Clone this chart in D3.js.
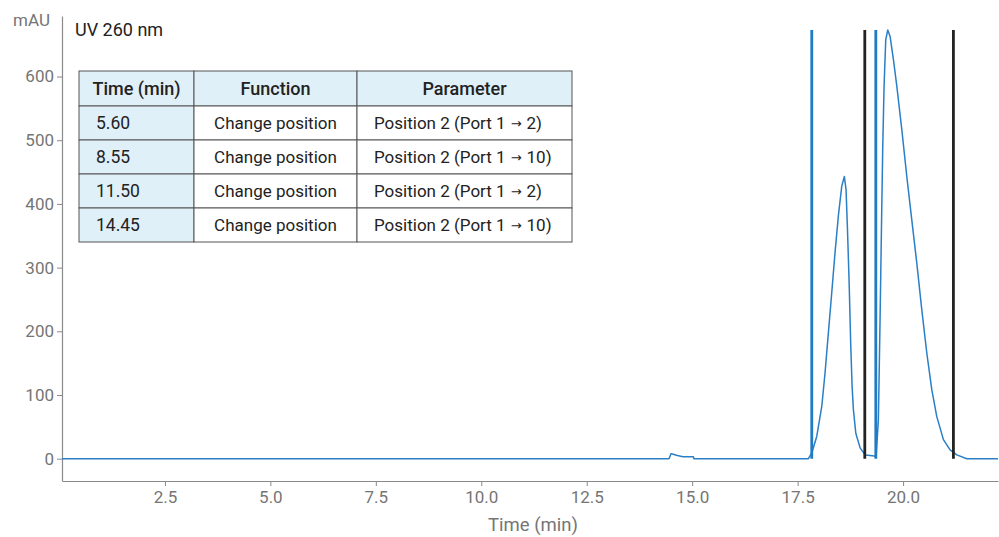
<!DOCTYPE html>
<html>
<head>
<meta charset="utf-8">
<script src="https://cdn.jsdelivr.net/npm/d3@7"></script>
<style>
  html, body { margin: 0; padding: 0; background: #fff; }
  svg { display: block; font-family: Roboto, "Noto Sans", sans-serif; }
</style>
</head>
<body>
<svg id="chart" width="999" height="537"></svg>
<script>
// ---- Data ----
const traceTime = [0.06, 14.45, 14.50, 14.55, 14.65, 14.78, 15.03, 15.04, 17.755, 17.835, 17.953, 18.072, 18.150, 18.229, 18.309, 18.387, 18.465, 18.546, 18.608, 18.648, 18.679, 18.719, 18.760, 18.791, 18.822, 18.879, 18.981, 19.100, 19.219, 19.361, 19.414, 19.454, 19.495, 19.518, 19.549, 19.589, 19.637, 19.692, 19.770, 19.851, 19.969, 20.088, 20.206, 20.325, 20.443, 20.562, 20.681, 20.799, 20.956, 21.115, 21.273, 21.510, 22.25];
const traceMAU  = [0, 0, 8, 7, 5, 3, 3, 0, 0, 9, 35, 82, 135, 198, 261, 324, 381, 428, 443, 422, 365, 281, 176, 114, 77, 40, 17, 6, 5, 4, 61, 218, 396, 490, 585, 658, 673, 663, 627, 585, 517, 443, 375, 307, 234, 166, 108, 66, 30, 14, 6, 0, 0];

const markerTimes  = [17.835, 19.092, 19.353, 21.193];
const markerColors = ["#1f7bc4", "#222222", "#1f7bc4", "#222222"];
const markerTop = 673;

const xTicks = [2.5, 5.0, 7.5, 10.0, 12.5, 15.0, 17.5, 20.0];
const yTicks = [0, 100, 200, 300, 400, 500, 600];

const tableHeaders   = ["Time (min)", "Function", "Parameter"];
const tableTimes     = ["5.60", "8.55", "11.50", "14.45"];
const tableFunctions = ["Change position", "Change position", "Change position", "Change position"];
const tableParams    = ["Position 2 (Port 1 \u2192 2)", "Position 2 (Port 1 \u2192 10)", "Position 2 (Port 1 \u2192 2)", "Position 2 (Port 1 \u2192 10)"];

// ---- Layout ----
const svg = d3.select("#chart");
const pLeft = 62, pRight = 998, pTop = 16, pBottom = 481;

const x = d3.scaleLinear().domain([0.06, 22.25]).range([pLeft, pRight]);
const y = d3.scaleLinear().domain([-35, 695]).range([pBottom, pTop]);

const axisColor = "#8a8a8a";
const labelColor = "#757575";

// X axis
const xAxis = svg.append("g")
  .attr("transform", `translate(0,${pBottom})`)
  .call(d3.axisBottom(x).tickValues(xTicks).tickFormat(d3.format(".1f")).tickSize(5).tickSizeOuter(0).tickPadding(5));
xAxis.select(".domain").attr("stroke", axisColor).attr("stroke-width", 1.2);
xAxis.selectAll(".tick line").attr("stroke", axisColor);
xAxis.selectAll(".tick text").attr("fill", labelColor).attr("font-size", 17).attr("font-family", "Roboto");

// Y axis
const yAxis = svg.append("g")
  .attr("transform", `translate(${pLeft},0)`)
  .call(d3.axisLeft(y).tickValues(yTicks).tickSize(5).tickSizeOuter(0).tickPadding(3));
yAxis.select(".domain").attr("stroke", axisColor).attr("stroke-width", 1.2);
yAxis.selectAll(".tick line").attr("stroke", axisColor);
yAxis.selectAll(".tick text").attr("fill", labelColor).attr("font-size", 17).attr("font-family", "Roboto");

// Axis labels
svg.append("text").attr("x", 533).attr("y", 531).attr("text-anchor", "middle")
  .attr("fill", labelColor).attr("font-size", 18.5).text("Time (min)");
svg.append("text").attr("x", 50).attr("y", 26).attr("text-anchor", "end")
  .attr("fill", labelColor).attr("font-size", 17).text("mAU");
svg.append("text").attr("x", 75).attr("y", 36)
  .attr("fill", "#222").attr("font-size", 18).text("UV 260 nm");

// Trace
const line = d3.line().x((d, i) => x(traceTime[i])).y((d, i) => y(traceMAU[i]));
svg.append("path").datum(traceMAU)
  .attr("fill", "none").attr("stroke", "#2a7fc6").attr("stroke-width", 1.5)
  .attr("stroke-linejoin", "round").attr("d", line);

// Marker lines
svg.append("g").selectAll("line").data(markerTimes).join("line")
  .attr("x1", d => x(d)).attr("x2", d => x(d))
  .attr("y1", y(markerTop)).attr("y2", y(0))
  .attr("stroke", (d, i) => markerColors[i]).attr("stroke-width", 2.8);

// Table
const tX = [79, 194, 357, 572];
const tY0 = 71, headerH = 35, rowH = 34;
const tbl = svg.append("g");
const fillBlue = "#e0f0f9";
const border = "#555";
tableHeaders.forEach((h, c) => {
  tbl.append("rect").attr("x", tX[c]).attr("y", tY0).attr("width", tX[c+1]-tX[c]).attr("height", headerH)
    .attr("fill", fillBlue).attr("stroke", border).attr("stroke-width", 1);
  tbl.append("text").attr("x", (tX[c]+tX[c+1])/2).attr("y", tY0 + headerH/2 + 6.5)
    .attr("text-anchor", "middle").attr("font-size", 18).attr("font-weight", 500).attr("fill", "#222").text(h);
});
tableTimes.forEach((t, r) => {
  const ry = tY0 + headerH + r*rowH;
  const cells = [t, tableFunctions[r], tableParams[r]];
  cells.forEach((v, c) => {
    tbl.append("rect").attr("x", tX[c]).attr("y", ry).attr("width", tX[c+1]-tX[c]).attr("height", rowH)
      .attr("fill", c === 0 ? fillBlue : "#fff").attr("stroke", border).attr("stroke-width", 1);
    const tx = c === 0 ? tX[0] + 17 : (c === 1 ? (tX[1]+tX[2])/2 : tX[2] + 17);
    const txt = tbl.append("text").attr("x", tx).attr("y", ry + rowH/2 + 6)
      .attr("text-anchor", c === 1 ? "middle" : "start")
      .attr("font-size", c === 0 ? 17.5 : 17).attr("fill", "#222");
    if (c === 2 && v.includes("\u2192")) {
      const parts = v.split("\u2192");
      txt.append("tspan").text(parts[0].trimEnd());
      txt.append("tspan").attr("font-family", "DejaVu Sans").attr("font-size", 13).attr("dx", 5).attr("dy", -1).text("\u2192");
      txt.append("tspan").attr("dx", 5).attr("dy", 1).text(parts[1].trimStart());
    } else {
      txt.text(v);
    }
  });
});
</script>
</body>
</html>
